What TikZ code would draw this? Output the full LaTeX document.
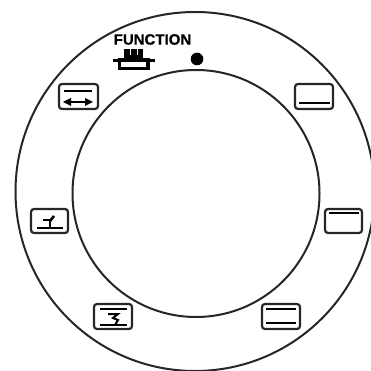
\documentclass[tikz,border=0pt]{standalone}
\usepackage{fontspec}
\setmainfont{Liberation Sans}
\newfontfamily\fnfont[FakeBold=0.5]{Liberation Sans Bold}
\tikzset{
 ring/.style={draw=black!85,line width=2pt},
 iconbox/.style={draw=black!85,line width=2.2pt,rounded corners=3pt,fill=white},
 bar/.style={draw=black,line width=2.6pt},
 thin/.style={draw=black,line width=2pt}
}
\begin{document}
\begin{tikzpicture}[x=1pt,y=-1pt]
\useasboundingbox (0,0) rectangle (371,371);
\clip (0,0) rectangle (371,371);
\draw[ring] (195,191.5) circle[radius=179.5];
\draw[ring] (196,193.5) circle[radius=123.5];
% top right
\draw[iconbox] (295,84) rectangle (333,109);
\draw[bar] (299,103) -- (330,103);
% right
\draw[iconbox] (325,209) rectangle (362,233);
\draw[bar] (329,213) -- (359,213);
% bottom right
\draw[iconbox] (262,304) rectangle (300,329);
\draw[bar] (266,309) -- (296,309);
\draw[bar] (266,323) -- (296,323);
% bottom left
\draw[iconbox] (94,304) rectangle (132,329);
\draw[bar] (100,309) -- (127,309);
\draw[bar] (100,325) -- (127,325);
\draw[thin] (108,314) -- (118,314) -- (113,318) -- (118,320) -- (115,325);
% left
\draw[iconbox] (31,209) rectangle (68,233);
\draw[bar] (37,228) -- (63,228);
\draw[line width=2.6pt] (43,220) -- (50,220) -- (50,228);
\draw[line width=2.6pt] (50,221) -- (54,216);
% top left
\draw[iconbox] (59,84) rectangle (98,109);
\draw[bar] (64,91) -- (92,91);
\draw[thin] (66,102) -- (90,102);
\fill[black] (63,102) -- (71,98) -- (71,106) -- cycle;
\fill[black] (93,102) -- (85,98) -- (85,106) -- cycle;
% function
\node[font=\fnfont\fontsize{15}{15}\selectfont,inner sep=0pt,text=black] (fn) at (152.5,39.5) {FUNCTION};
\fill[black] (197,59) circle[radius=6.3];
\fill[black] (124,49) rectangle (143,58);
\draw[white,line width=0.9pt] (130,49) -- (130,55) (137,49) -- (137,55);
\draw[line width=3pt] (113,60.5) -- (155,60.5);
\draw[line width=3.2pt] (119.5,60) rectangle (148,68.5);
\end{tikzpicture}
\end{document}
